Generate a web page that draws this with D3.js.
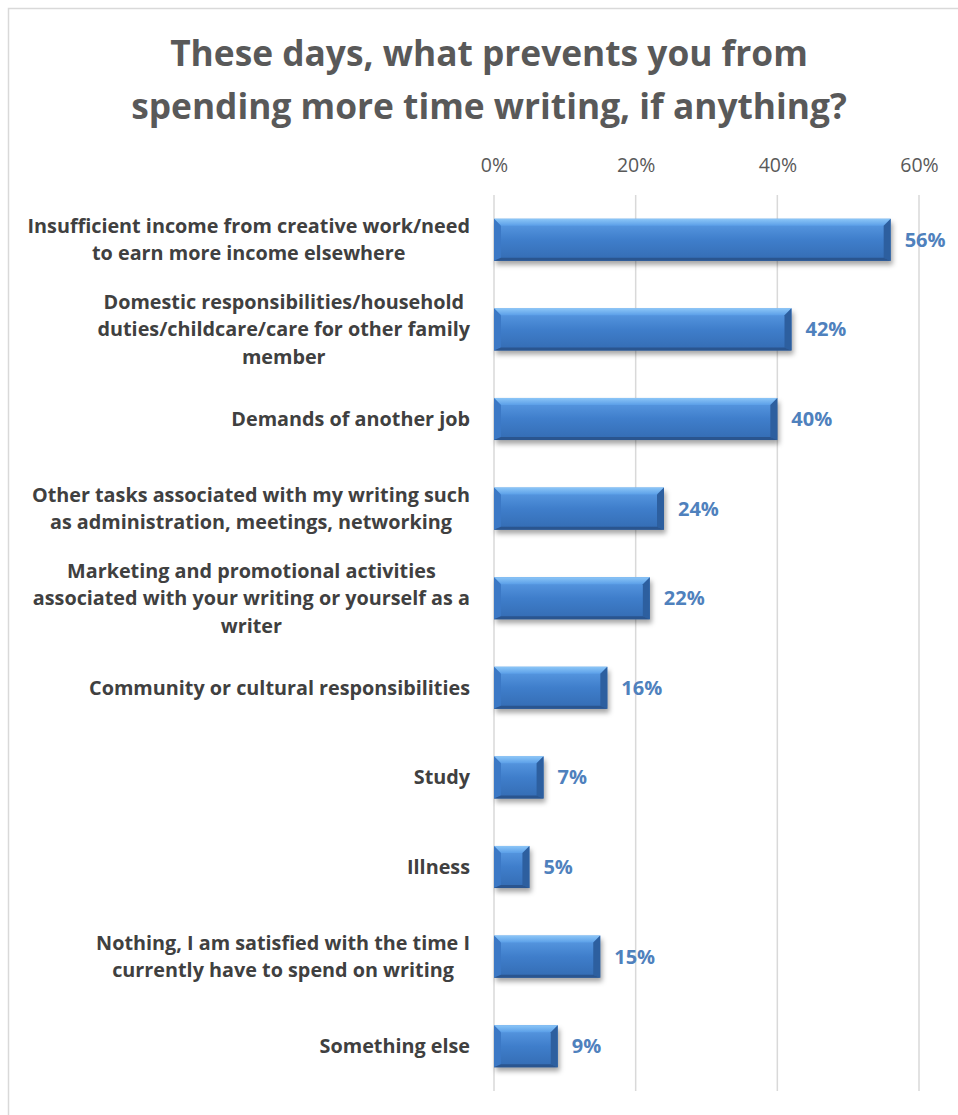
<!DOCTYPE html>
<html>
<head>
<meta charset="utf-8">
<script src="https://cdn.jsdelivr.net/npm/d3@7"></script>
<style>
  html, body { margin: 0; padding: 0; background: #fff; }
  svg { display: block; }
</style>
</head>
<body>
<svg id="chart" width="958" height="1115"></svg>
<script>
const titleLines = ["These days, what prevents you from", "spending more time writing, if anything?"];
const categories = [
  "Insufficient income from creative work/need to earn more income elsewhere",
  "Domestic responsibilities/household duties/childcare/care for other family member",
  "Demands of another job",
  "Other tasks associated with my writing such as administration, meetings, networking",
  "Marketing and promotional activities associated with your writing or yourself as a writer",
  "Community or cultural responsibilities",
  "Study",
  "Illness",
  "Nothing, I am satisfied with the time I currently have to spend on writing",
  "Something else"
];
const labelLines = [
  ["Insufficient income from creative work/need", "to earn more income elsewhere"],
  ["Domestic responsibilities/household", "duties/childcare/care for other family", "member"],
  ["Demands of another job"],
  ["Other tasks associated with my writing such", "as administration, meetings, networking"],
  ["Marketing and promotional activities", "associated with your writing or yourself as a", "writer"],
  ["Community or cultural responsibilities"],
  ["Study"],
  ["Illness"],
  ["Nothing, I am satisfied with the time I", "currently have to spend on writing"],
  ["Something else"]
];
const values = [0.56, 0.42, 0.40, 0.24, 0.22, 0.16, 0.07, 0.05, 0.15, 0.09];
const tickValues = [0, 0.2, 0.4, 0.6];

const svg = d3.select("#chart");
const FONT = "'Open Sans', Lato, sans-serif";

// outer border
svg.append("rect").attr("x", 8.5).attr("y", 8.5).attr("width", 1000).attr("height", 1200)
  .attr("fill", "none").attr("stroke", "#d9d9d9").attr("stroke-width", 1.5);

// defs
const defs = svg.append("defs");
const g1 = defs.append("linearGradient").attr("id", "barGrad").attr("x1", 0).attr("y1", 0).attr("x2", 0).attr("y2", 1);
[[0, "#5d9ee6"], [0.5, "#3f7ecb"], [1, "#346cb3"]].forEach(s => g1.append("stop").attr("offset", s[0]).attr("stop-color", s[1]));
const g2 = defs.append("linearGradient").attr("id", "topGrad").attr("x1", 0).attr("y1", 0).attr("x2", 0).attr("y2", 1);
[[0, "#8cc6f7"], [1, "#5b9fe8"]].forEach(s => g2.append("stop").attr("offset", s[0]).attr("stop-color", s[1]));
const f = defs.append("filter").attr("id", "shadow").attr("x", "-20%").attr("y", "-50%").attr("width", "140%").attr("height", "200%");
f.append("feGaussianBlur").attr("stdDeviation", 2.5);

const x = d3.scaleLinear().domain([0, 0.6]).range([494, 919]);
const y = d3.scaleBand().domain(categories).range([195, 1091]).paddingInner(0.53).paddingOuter(0.265);

// title
svg.append("g").selectAll("text").data(titleLines).join("text")
  .attr("x", 489).attr("y", (d, i) => 66 + i * 53)
  .attr("text-anchor", "middle")
  .attr("font-family", FONT).attr("font-weight", 700).attr("font-size", 35.3)
  .attr("fill", "#595959").text(d => d);

// gridlines
svg.append("g").selectAll("line").data(tickValues).join("line")
  .attr("x1", d => x(d)).attr("x2", d => x(d))
  .attr("y1", 195).attr("y2", 1091)
  .attr("stroke", "#d9d9d9").attr("stroke-width", 1.5);

// top axis labels
const axis = svg.append("g").attr("transform", "translate(0,172)")
  .call(d3.axisTop(x).tickValues(tickValues).tickFormat(d3.format(".0%")).tickSize(0).tickPadding(0));
axis.select(".domain").remove();
axis.selectAll("text").attr("font-family", FONT).attr("font-size", 19.5).attr("fill", "#595959");

// bars
const bars = svg.append("g").selectAll("g").data(categories).join("g");
bars.each(function (c, i) {
  const gsel = d3.select(this);
  const x0 = x(0), x1 = x(values[i]);
  const y0 = y(c), h = y.bandwidth(), y1 = y0 + h;
  const b = 7;
  gsel.append("rect").attr("x", x0 + 2).attr("y", y0 + 4).attr("width", x1 - x0).attr("height", h)
    .attr("fill", "rgba(0,0,0,0.35)").attr("filter", "url(#shadow)");
  gsel.append("rect").attr("x", x0).attr("y", y0).attr("width", x1 - x0).attr("height", h).attr("fill", "url(#barGrad)");
  gsel.append("polygon").attr("points", [[x0, y0], [x1, y0], [x1 - b, y0 + b], [x0 + b, y0 + b]].join(" "))
    .attr("fill", "url(#topGrad)");
  gsel.append("polygon").attr("points", [[x0, y0], [x0 + b, y0 + b], [x0 + b, y1 - 3], [x0, y1]].join(" "))
    .attr("fill", "#3b78c5");
  gsel.append("polygon").attr("points", [[x1, y0], [x1, y1], [x1 - b, y1 - 3], [x1 - b, y0 + b]].join(" "))
    .attr("fill", "#2d5f9f");
  gsel.append("polygon").attr("points", [[x0, y1], [x1, y1], [x1 - b, y1 - 3], [x0 + b, y1 - 3]].join(" "))
    .attr("fill", "#2a558f");
});

// value labels
svg.append("g").selectAll("text").data(categories).join("text")
  .attr("x", (c, i) => x(values[i]) + 14)
  .attr("y", c => y(c) + y.bandwidth() / 2)
  .attr("dy", "0.35em")
  .attr("font-family", FONT).attr("font-weight", 700).attr("font-size", 20)
  .attr("fill", "#4f81bd")
  .text((c, i) => d3.format(".0%")(values[i]));

// category labels (block right-aligned, lines centered)
const lh = 27.5;
const labG = svg.append("g").selectAll("g").data(categories).join("g");
labG.each(function (c, i) {
  const gsel = d3.select(this);
  const lines = labelLines[i];
  const cy = y(c) + y.bandwidth() / 2;
  const texts = gsel.selectAll("text").data(lines).join("text")
    .attr("font-family", FONT).attr("font-weight", 700).attr("font-size", 19.8)
    .attr("fill", "#404040").attr("text-anchor", "middle")
    .attr("y", (d, k) => cy + (k - (lines.length - 1) / 2) * lh)
    .attr("dy", "0.35em")
    .text(d => d);
  let maxW = 0;
  texts.each(function () { maxW = Math.max(maxW, this.getComputedTextLength()); });
  texts.attr("x", 470 - maxW / 2);
});
</script>
</body>
</html>
